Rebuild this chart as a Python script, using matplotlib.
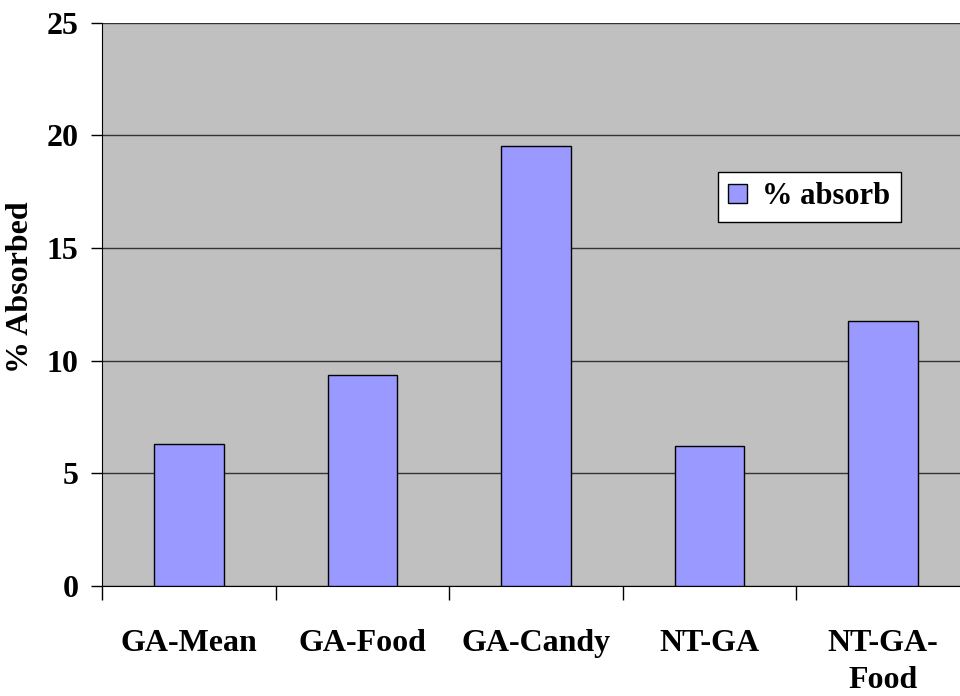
import matplotlib.pyplot as plt
import numpy as np

# Datos
categorias = ['GA-Mean', 'GA-Food', 'GA-Candy', 'NT-GA', 'NT-GA-\nFood']
valores = [6.3, 9.35, 19.5, 6.2, 11.75]
etiqueta_serie = '% absorb'
yticks = [0, 5, 10, 15, 20, 25]

plt.rcParams['font.family'] = ['Liberation Serif', 'DejaVu Serif']
plt.rcParams['font.weight'] = 'bold'

fig = plt.figure(figsize=(9.6, 6.96), dpi=100)
ax = fig.add_axes([102 / 960, 1 - 586 / 696, 868 / 960, (586 - 22.5) / 696])
ax.set_facecolor('#C0C0C0')

x = np.arange(len(categorias))
ax.bar(x, valores, width=0.4, color='#9999FF', edgecolor='black',
       linewidth=1, label=etiqueta_serie, zorder=3)

ax.set_xlim(-0.5, len(categorias) - 0.5)
ax.set_ylim(0, 25)
ax.set_yticks(yticks)
ax.set_yticklabels([str(v) for v in yticks], fontsize=23, fontweight='bold')
ax.yaxis.grid(True, color='#333333', linewidth=1, zorder=1)
ax.tick_params(axis='y', length=8, width=1, pad=9)

# marcas en los limites de categoria, etiquetas en el centro
ax.set_xticks(np.arange(len(categorias) + 1) - 0.5)
ax.set_xticklabels([])
ax.tick_params(axis='x', which='major', length=10, width=1)
ax.set_xticks(x, minor=True)
ax.set_xticklabels(categorias, minor=True, fontsize=23, fontweight='bold',
                   linespacing=1.38, va='top')
ax.tick_params(axis='x', which='minor', length=0, pad=31)

for lado in ['top', 'right']:
    ax.spines[lado].set_visible(False)
ax.spines['left'].set_color('black')
ax.spines['bottom'].set_color('black')

ax.set_ylabel('% Absorbed', fontsize=23, fontweight='bold')
ax.yaxis.set_label_coords(-0.077, 0.53)

leg = ax.legend(loc='upper left', bbox_to_anchor=((717.7 - 102) / 868, (586 - 171.7) / 563.5),
                borderaxespad=0, fancybox=False, framealpha=1, edgecolor='black',
                prop={'size': 22, 'weight': 'bold'}, handlelength=0.6,
                handleheight=0.6, handletextpad=0.5, borderpad=0.35)
leg.get_frame().set_linewidth(1)

fig.savefig('out.png', dpi=100)
